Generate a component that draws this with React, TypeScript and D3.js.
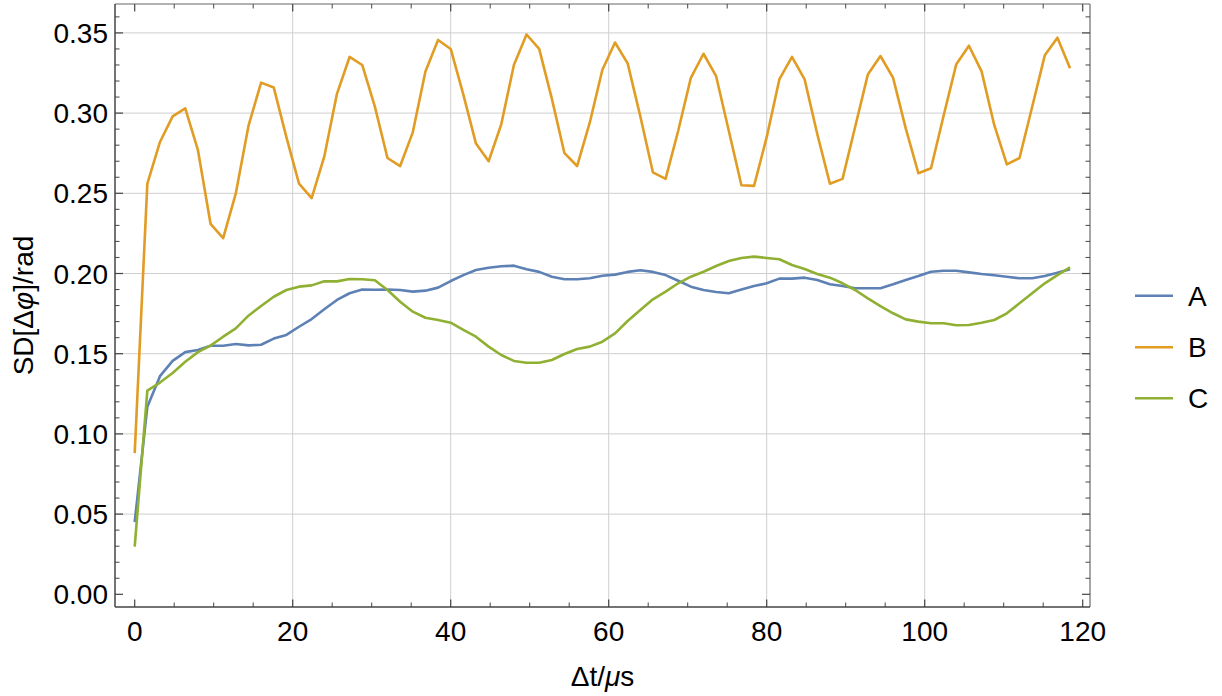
import React from "react";
import * as d3 from "d3";

const times = [0, 1.6, 3.2, 4.8, 6.4, 8, 9.6, 11.2, 12.8, 14.4, 16, 17.6, 19.2, 20.8, 22.4, 24, 25.6, 27.2, 28.8, 30.4, 32, 33.6, 35.2, 36.8, 38.4, 40, 41.6, 43.2, 44.8, 46.4, 48, 49.6, 51.2, 52.8, 54.4, 56, 57.6, 59.2, 60.8, 62.4, 64, 65.6, 67.2, 68.8, 70.4, 72, 73.6, 75.2, 76.8, 78.4, 80, 81.6, 83.2, 84.8, 86.4, 88, 89.6, 91.2, 92.8, 94.4, 96, 97.6, 99.2, 100.8, 102.4, 104, 105.6, 107.2, 108.8, 110.4, 112, 113.6, 115.2, 116.8, 118.4];

const seriesA = [
  0.045, 0.117, 0.136, 0.1455, 0.151, 0.1523, 0.155, 0.155, 0.156, 0.1552,
  0.1556, 0.1594, 0.1617, 0.1668, 0.1716, 0.1777, 0.1835, 0.1877, 0.19, 0.1899,
  0.19, 0.1897, 0.1887, 0.1893, 0.1912, 0.1953, 0.199, 0.2022, 0.2036, 0.2045,
  0.2049, 0.2026, 0.201, 0.198, 0.1964, 0.1964, 0.197, 0.1986, 0.1993, 0.201,
  0.202, 0.201, 0.199, 0.1955, 0.1918, 0.1897, 0.1885, 0.1877, 0.19, 0.1922,
  0.1939, 0.1968, 0.1968, 0.1974, 0.196, 0.1933, 0.1922, 0.1908, 0.1908, 0.1908,
  0.1933, 0.196, 0.1984, 0.2011, 0.2017, 0.2017, 0.2007, 0.1997, 0.1989, 0.198,
  0.197, 0.197, 0.1984, 0.2005, 0.2026,
];

const seriesB = [
  0.088, 0.256, 0.282, 0.298, 0.303, 0.277, 0.231, 0.222, 0.25, 0.292,
  0.319, 0.316, 0.285, 0.256, 0.247, 0.273, 0.312, 0.335, 0.33, 0.304,
  0.272, 0.267, 0.288, 0.326, 0.3456, 0.34, 0.3115, 0.281, 0.27, 0.293,
  0.33, 0.349, 0.34, 0.309, 0.275, 0.267, 0.294, 0.327, 0.344, 0.331,
  0.298, 0.263, 0.259, 0.289, 0.322, 0.337, 0.323, 0.289, 0.255, 0.2546,
  0.285, 0.321, 0.335, 0.321, 0.287, 0.256, 0.259, 0.2915, 0.324, 0.3356,
  0.322, 0.2905, 0.2625, 0.2656, 0.2985, 0.3305, 0.342, 0.326, 0.2926, 0.268,
  0.272, 0.3038, 0.336, 0.347, 0.328,
];

const seriesC = [
  0.0297, 0.127, 0.132, 0.138, 0.145, 0.151, 0.155, 0.1606, 0.1658, 0.1737,
  0.1797, 0.1855, 0.1897, 0.1918, 0.1926, 0.1951, 0.1951, 0.1966, 0.1964, 0.1958,
  0.1897, 0.1824, 0.1762, 0.1724, 0.171, 0.1693, 0.1648, 0.1606, 0.1544, 0.1492,
  0.1455, 0.1444, 0.1444, 0.1461, 0.1498, 0.1529, 0.1544, 0.1575, 0.1627, 0.1704,
  0.1772, 0.1839, 0.1887, 0.1939, 0.198, 0.2011, 0.2047, 0.2078, 0.2097, 0.2105,
  0.2097, 0.2089, 0.2053, 0.2028, 0.1997, 0.1974, 0.1939, 0.1897, 0.1845, 0.1797,
  0.1752, 0.1714, 0.17, 0.169, 0.169, 0.1677, 0.1679, 0.1693, 0.171, 0.1752,
  0.1814, 0.1877, 0.1939, 0.199, 0.2039,
];

const seriesNames = ["A", "B", "C"];
const seriesColors = ["#5E81B5", "#E19C24", "#8FB032"];

const xMajor = [0, 20, 40, 60, 80, 100, 120];
const xGrid = [20, 40, 60, 80, 100];
const yMajor = [0, 0.05, 0.1, 0.15, 0.2, 0.25, 0.3, 0.35];
const yGrid = [0.05, 0.1, 0.15, 0.2, 0.25, 0.3, 0.35];

const W = 1222;
const H = 696;
const frame = { left: 115, right: 1090, top: 4, bottom: 607 };
const FONT = "'Liberation Sans', Arial, Helvetica, sans-serif";

export default function App() {
  const x = d3.scaleLinear().domain([0, 120]).range([134.7, 1082.7]);
  const y = d3.scaleLinear().domain([0, 0.35]).range([594.3, 32.9]);

  const xMinor = d3.range(0, 121, 5).filter((v) => v % 20 !== 0);
  const yMinor = d3.range(0, 36, 1).map((v) => v / 100).filter((v) => Math.round(v * 100) % 5 !== 0);
  const yMinorExtra = [0.36];

  const line = d3
    .line<number>()
    .x((_, i) => x(times[i]))
    .y((d) => y(d));

  const all = [seriesA, seriesB, seriesC];
  const legendY = [295.7, 347.3, 398.3];

  return (
    <svg
      width={W}
      height={H}
      style={{ position: "absolute", left: 0, top: 0, background: "#fff" }}
      fontFamily={FONT}
    >
      <defs>
        <clipPath id="plotClip">
          <rect x={frame.left} y={frame.top} width={frame.right - frame.left} height={frame.bottom - frame.top} />
        </clipPath>
      </defs>
      {/* grid lines */}
      {xGrid.map((v) => (
        <line key={"gx" + v} x1={x(v)} x2={x(v)} y1={frame.top} y2={frame.bottom} stroke="#cfcfcf" strokeWidth={1} />
      ))}
      {yGrid.map((v) => (
        <line key={"gy" + v} x1={frame.left} x2={frame.right} y1={y(v)} y2={y(v)} stroke="#cfcfcf" strokeWidth={1} />
      ))}

      {/* series */}
      <g clipPath="url(#plotClip)">
        {all.map((s, i) => (
          <path
            key={seriesNames[i]}
            d={line(s) || ""}
            fill="none"
            stroke={seriesColors[i]}
            strokeWidth={2.6}
            strokeLinejoin="round"
          />
        ))}
      </g>

      {/* frame */}
      <line x1={frame.left} x2={frame.right} y1={frame.top} y2={frame.top} stroke="#666" strokeWidth={1.2} />
      <line x1={frame.right} x2={frame.right} y1={frame.top} y2={frame.bottom} stroke="#808080" strokeWidth={1.4} />
      <line x1={frame.left} x2={frame.right} y1={frame.bottom} y2={frame.bottom} stroke="#444" strokeWidth={1.5} />
      <line x1={frame.left} x2={frame.left} y1={frame.top} y2={frame.bottom} stroke="#444" strokeWidth={1.5} />

      {/* x ticks bottom & top */}
      {xMajor.map((v) => (
        <g key={"xt" + v}>
          <line x1={x(v)} x2={x(v)} y1={frame.bottom} y2={frame.bottom - 7.5} stroke="#444" strokeWidth={1.2} />
          <line x1={x(v)} x2={x(v)} y1={frame.top} y2={frame.top + 7.5} stroke="#444" strokeWidth={1.2} />
          <text x={x(v)} y={641} textAnchor="middle" fontSize={28} fill="#000">
            {v}
          </text>
        </g>
      ))}
      {xMinor.map((v) => (
        <g key={"xm" + v}>
          <line x1={x(v)} x2={x(v)} y1={frame.bottom} y2={frame.bottom - 4.5} stroke="#444" strokeWidth={1} />
          <line x1={x(v)} x2={x(v)} y1={frame.top} y2={frame.top + 4.5} stroke="#444" strokeWidth={1} />
        </g>
      ))}

      {/* y ticks left & right */}
      {yMajor.map((v) => (
        <g key={"yt" + v}>
          <line x1={frame.left} x2={frame.left + 8} y1={y(v)} y2={y(v)} stroke="#444" strokeWidth={1.2} />
          <line x1={frame.right} x2={frame.right - 8} y1={y(v)} y2={y(v)} stroke="#444" strokeWidth={1.2} />
          <text x={108} y={y(v)} dy="0.36em" textAnchor="end" fontSize={28} fill="#000">
            {d3.format(".2f")(v)}
          </text>
        </g>
      ))}
      {yMinor.concat(yMinorExtra).map((v) => (
        <g key={"ym" + v}>
          <line x1={frame.left} x2={frame.left + 4.5} y1={y(v)} y2={y(v)} stroke="#444" strokeWidth={1} />
          <line x1={frame.right} x2={frame.right - 4.5} y1={y(v)} y2={y(v)} stroke="#444" strokeWidth={1} />
        </g>
      ))}

      {/* axis labels */}
      <text x={(frame.left + frame.right) / 2} y={686} textAnchor="middle" fontSize={28} fill="#000">
        Δt/<tspan fontStyle="italic">μ</tspan>s
      </text>
      <text
        transform={`translate(33, ${(frame.top + frame.bottom) / 2}) rotate(-90)`}
        textAnchor="middle"
        fontSize={28}
        fill="#000"
      >
        SD[Δ<tspan fontStyle="italic">φ</tspan>]/rad
      </text>

      {/* legend */}
      {seriesNames.map((n, i) => (
        <g key={"lg" + n}>
          <line x1={1135} x2={1173} y1={legendY[i]} y2={legendY[i]} stroke={seriesColors[i]} strokeWidth={2.6} />
          <text x={1188} y={legendY[i]} dy="0.36em" fontSize={28} fill="#000">
            {n}
          </text>
        </g>
      ))}
    </svg>
  );
}
